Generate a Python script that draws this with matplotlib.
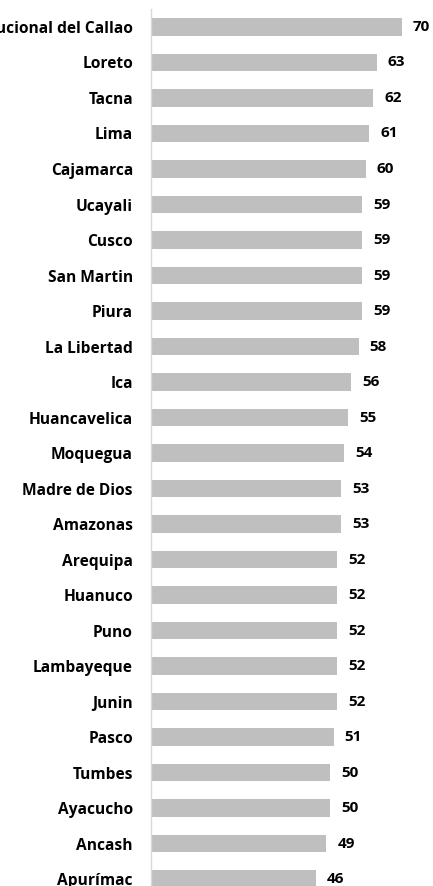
import matplotlib
matplotlib.use("Agg")
import matplotlib.pyplot as plt

regions = ["Provincia Constitucional del Callao", "Loreto", "Tacna", "Lima", "Cajamarca",
           "Ucayali", "Cusco", "San Martin", "Piura", "La Libertad", "Ica",
           "Huancavelica", "Moquegua", "Madre de Dios", "Amazonas", "Arequipa",
           "Huanuco", "Puno", "Lambayeque", "Junin", "Pasco", "Tumbes",
           "Ayacucho", "Ancash", "Apurímac"]
values = [70, 63, 62, 61, 60, 59, 59, 59, 59, 58, 56, 55, 54, 53, 53, 52,
          52, 52, 52, 52, 51, 50, 50, 49, 46]

W, H = 433, 886
fig = plt.figure(figsize=(W / 100, H / 100), dpi=100)
ax_left = 151 / W
ax_w = 268.5 / W
ax_top = 9 / H
ax = fig.add_axes([ax_left, 0, ax_w, 1 - ax_top])

pos = list(range(len(regions)))
ax.barh(pos, values, height=0.49, color="#BFBFBF", zorder=2)
ax.set_xlim(0, 75)
ax.set_ylim(24.197, -0.507)

font = "Open Sans"
for p, v in zip(pos, values):
    ax.annotate(str(v), xy=(v, p), xytext=(8, 0), textcoords="offset points",
                ha="left", va="center", fontsize=11, fontweight="bold",
                family=font, color="black")

ax.set_yticks(pos)
ax.set_yticklabels(regions, fontsize=11.2, fontweight="bold", family=font)
ax.tick_params(axis="y", length=0, pad=13)
ax.set_xticks([])
for s in ["top", "right", "bottom"]:
    ax.spines[s].set_visible(False)
ax.spines["left"].set_color("#D9D9D9")
ax.spines["left"].set_linewidth(1.0)

fig.savefig("out.png", dpi=100)
